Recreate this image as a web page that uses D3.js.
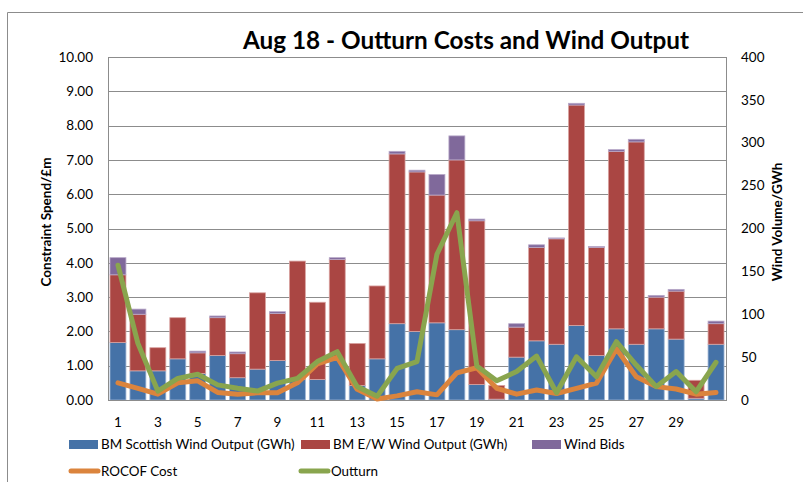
<!DOCTYPE html>
<html>
<head>
<meta charset="utf-8">
<script src="https://cdn.jsdelivr.net/npm/d3@7"></script>
<style>
  html, body { margin: 0; padding: 0; background: #fff; }
  svg { display: block; font-family: Lato, "Open Sans", sans-serif; }
</style>
</head>
<body>
<svg id="chart" width="803" height="482"></svg>
<script>
// August days
const days = d3.range(1, 32);
// Wind volumes (GWh), stacked bars on the right axis
const scottishWind = [67, 34, 34, 48, 31, 52, 26, 36, 46, 24, 24, 46, 17, 48, 89, 80, 90, 82, 18, 1, 50, 69, 65, 87, 52, 83, 65, 83, 71, 2, 65];
const ewWind       = [79, 66, 27, 48, 24, 44, 28, 89, 55, 138, 90, 118, 49, 85, 198, 186, 149, 198, 191, 16, 35, 109, 123, 257, 126, 207, 236, 37, 56, 21, 24];
const windBids     = [20, 6, 0, 0, 2, 2, 2, 0, 2, 0, 0, 2, 0, 0, 3, 2, 24, 28, 2, 0, 4, 3, 1, 2, 1, 2, 3, 2, 2, 0, 3];
// Costs (£m), lines on the left axis
const rocofCost = [0.50, 0.34, 0.17, 0.50, 0.56, 0.22, 0.17, 0.21, 0.21, 0.50, 1.05, 1.24, 0.31, 0.03, 0.12, 0.24, 0.15, 0.79, 0.94, 0.34, 0.17, 0.29, 0.19, 0.34, 0.49, 1.49, 0.68, 0.39, 0.32, 0.17, 0.22];
const outturn   = [3.93, 1.65, 0.26, 0.63, 0.75, 0.44, 0.34, 0.26, 0.49, 0.63, 1.12, 1.41, 0.39, 0.11, 0.92, 1.12, 4.25, 5.46, 0.99, 0.56, 0.83, 1.28, 0.21, 1.26, 0.68, 1.70, 1.02, 0.39, 0.83, 0.24, 1.10];
// Axis ticks
const leftTicks  = d3.range(0, 10.5, 1);
const rightTicks = d3.range(0, 401, 50);
const xTickDays  = d3.range(1, 30, 2);

const seriesNames = ["BM Scottish Wind Output (GWh)", "BM E/W Wind Output (GWh)", "Wind Bids"];
const barColors = ["#4572A7", "#AA4643", "#80699B"];
const barEdge   = ["#9db4d4", "#d9a3a1", "#b8a9c9"];
const rocofColor = "#DB843D";
const outturnColor = "#89A54E";

const svg = d3.select("#chart");
const M = { left: 108, right: 726, top: 57, bottom: 400 };

const x = d3.scaleBand().domain(days).range([M.left, M.right]).paddingInner(0.2).paddingOuter(0.1);
const yL = d3.scaleLinear().domain([0, 10]).range([M.bottom, M.top]);
const yR = d3.scaleLinear().domain([0, 400]).range([M.bottom, M.top]);

// Outer frame (left and top edges visible)
svg.append("path")
  .attr("d", `M7.5,482 V12.5 H803`)
  .attr("fill", "none").attr("stroke", "#8c8c8c").attr("stroke-width", 1);

// Horizontal gridlines
svg.append("g").selectAll("line").data(leftTicks.filter(t => t > 0)).join("line")
  .attr("x1", M.left).attr("x2", M.right)
  .attr("y1", d => Math.round(yL(d)) + 0.5).attr("y2", d => Math.round(yL(d)) + 0.5)
  .attr("stroke", "#8c8c8c").attr("stroke-width", 1);

// Stacked bars
const table = days.map((d, i) => ({ day: d, s: scottishWind[i], e: ewWind[i], b: windBids[i] }));
const stack = d3.stack().keys(["s", "e", "b"])(table);
const gBars = svg.append("g");
stack.forEach((layer, k) => {
  gBars.append("g").selectAll("rect").data(layer.filter(p => p[1] > p[0])).join("rect")
    .attr("x", p => x(p.data.day))
    .attr("width", x.bandwidth())
    .attr("y", p => yR(p[1]))
    .attr("height", p => yR(p[0]) - yR(p[1]))
    .attr("fill", barColors[k])
    .attr("stroke", barEdge[k])
    .attr("stroke-width", 0.8);
});

// Plot-area edges and axis lines
svg.append("line").attr("x1", M.left + 0.5).attr("x2", M.left + 0.5).attr("y1", M.top).attr("y2", M.bottom)
  .attr("stroke", "#8c8c8c");
svg.append("line").attr("x1", M.right + 0.5).attr("x2", M.right + 0.5).attr("y1", M.top).attr("y2", M.bottom)
  .attr("stroke", "#8c8c8c");
svg.append("line").attr("x1", M.left).attr("x2", M.right + 1).attr("y1", M.bottom + 0.5).attr("y2", M.bottom + 0.5)
  .attr("stroke", "#8c8c8c");

// Cost lines
const cx = d => x(d) + x.bandwidth() / 2;
const line = d3.line().x((v, i) => cx(days[i])).y(v => yL(v));
svg.append("path").datum(rocofCost).attr("d", line)
  .attr("fill", "none").attr("stroke", rocofColor).attr("stroke-width", 5)
  .attr("stroke-linejoin", "round").attr("stroke-linecap", "round");
svg.append("path").datum(outturn).attr("d", line)
  .attr("fill", "none").attr("stroke", outturnColor).attr("stroke-width", 5)
  .attr("stroke-linejoin", "round").attr("stroke-linecap", "round");

// Left axis labels
svg.append("g").selectAll("text").data(leftTicks).join("text")
  .attr("x", 93).attr("y", d => yL(d)).attr("dy", "0.35em")
  .attr("text-anchor", "end").attr("font-size", 13.5).attr("fill", "#000")
  .text(d => d3.format(".2f")(d));

// Right axis labels
svg.append("g").selectAll("text").data(rightTicks).join("text")
  .attr("x", 741).attr("y", d => yR(d)).attr("dy", "0.35em")
  .attr("text-anchor", "start").attr("font-size", 13.5).attr("fill", "#000")
  .text(d => d);

// Day labels
svg.append("g").selectAll("text").data(xTickDays).join("text")
  .attr("x", d => cx(d)).attr("y", 422).attr("dy", "0.35em")
  .attr("text-anchor", "middle").attr("font-size", 13.5).attr("fill", "#000")
  .text(d => d);

// Axis titles
svg.append("text")
  .attr("transform", `translate(51,222) rotate(-90)`)
  .attr("text-anchor", "middle").attr("font-size", 13.5).attr("font-weight", "bold")
  .text("Constraint Spend/£m");
svg.append("text")
  .attr("transform", `translate(782,222) rotate(-90)`)
  .attr("text-anchor", "middle").attr("font-size", 13.5).attr("font-weight", "bold")
  .text("Wind Volume/GWh");

// Title
svg.append("text")
  .attr("x", 466).attr("y", 49)
  .attr("text-anchor", "middle").attr("font-size", 24.3).attr("font-weight", "bold")
  .text("Aug 18 - Outturn Costs and Wind Output");

// Legend
const legend = svg.append("g").attr("font-size", 13.4);
const barLegend = [
  { name: seriesNames[0], color: barColors[0], x: 69 },
  { name: seriesNames[1], color: barColors[1], x: 301 },
  { name: seriesNames[2], color: barColors[2], x: 532 }
];
barLegend.forEach(l => {
  legend.append("rect").attr("x", l.x).attr("y", 440).attr("width", 29).attr("height", 9).attr("fill", l.color);
  legend.append("text").attr("x", l.x + 32).attr("y", 444).attr("dy", "0.35em").text(l.name);
});
const lineLegend = [
  { name: "ROCOF Cost", color: rocofColor, x: 69 },
  { name: "Outturn", color: outturnColor, x: 299 }
];
lineLegend.forEach(l => {
  legend.append("line").attr("x1", l.x + 2).attr("x2", l.x + 29).attr("y1", 471).attr("y2", 471)
    .attr("stroke", l.color).attr("stroke-width", 5).attr("stroke-linecap", "round");
  legend.append("text").attr("x", l.x + 32).attr("y", 471).attr("dy", "0.35em").text(l.name);
});
</script>
</body>
</html>
